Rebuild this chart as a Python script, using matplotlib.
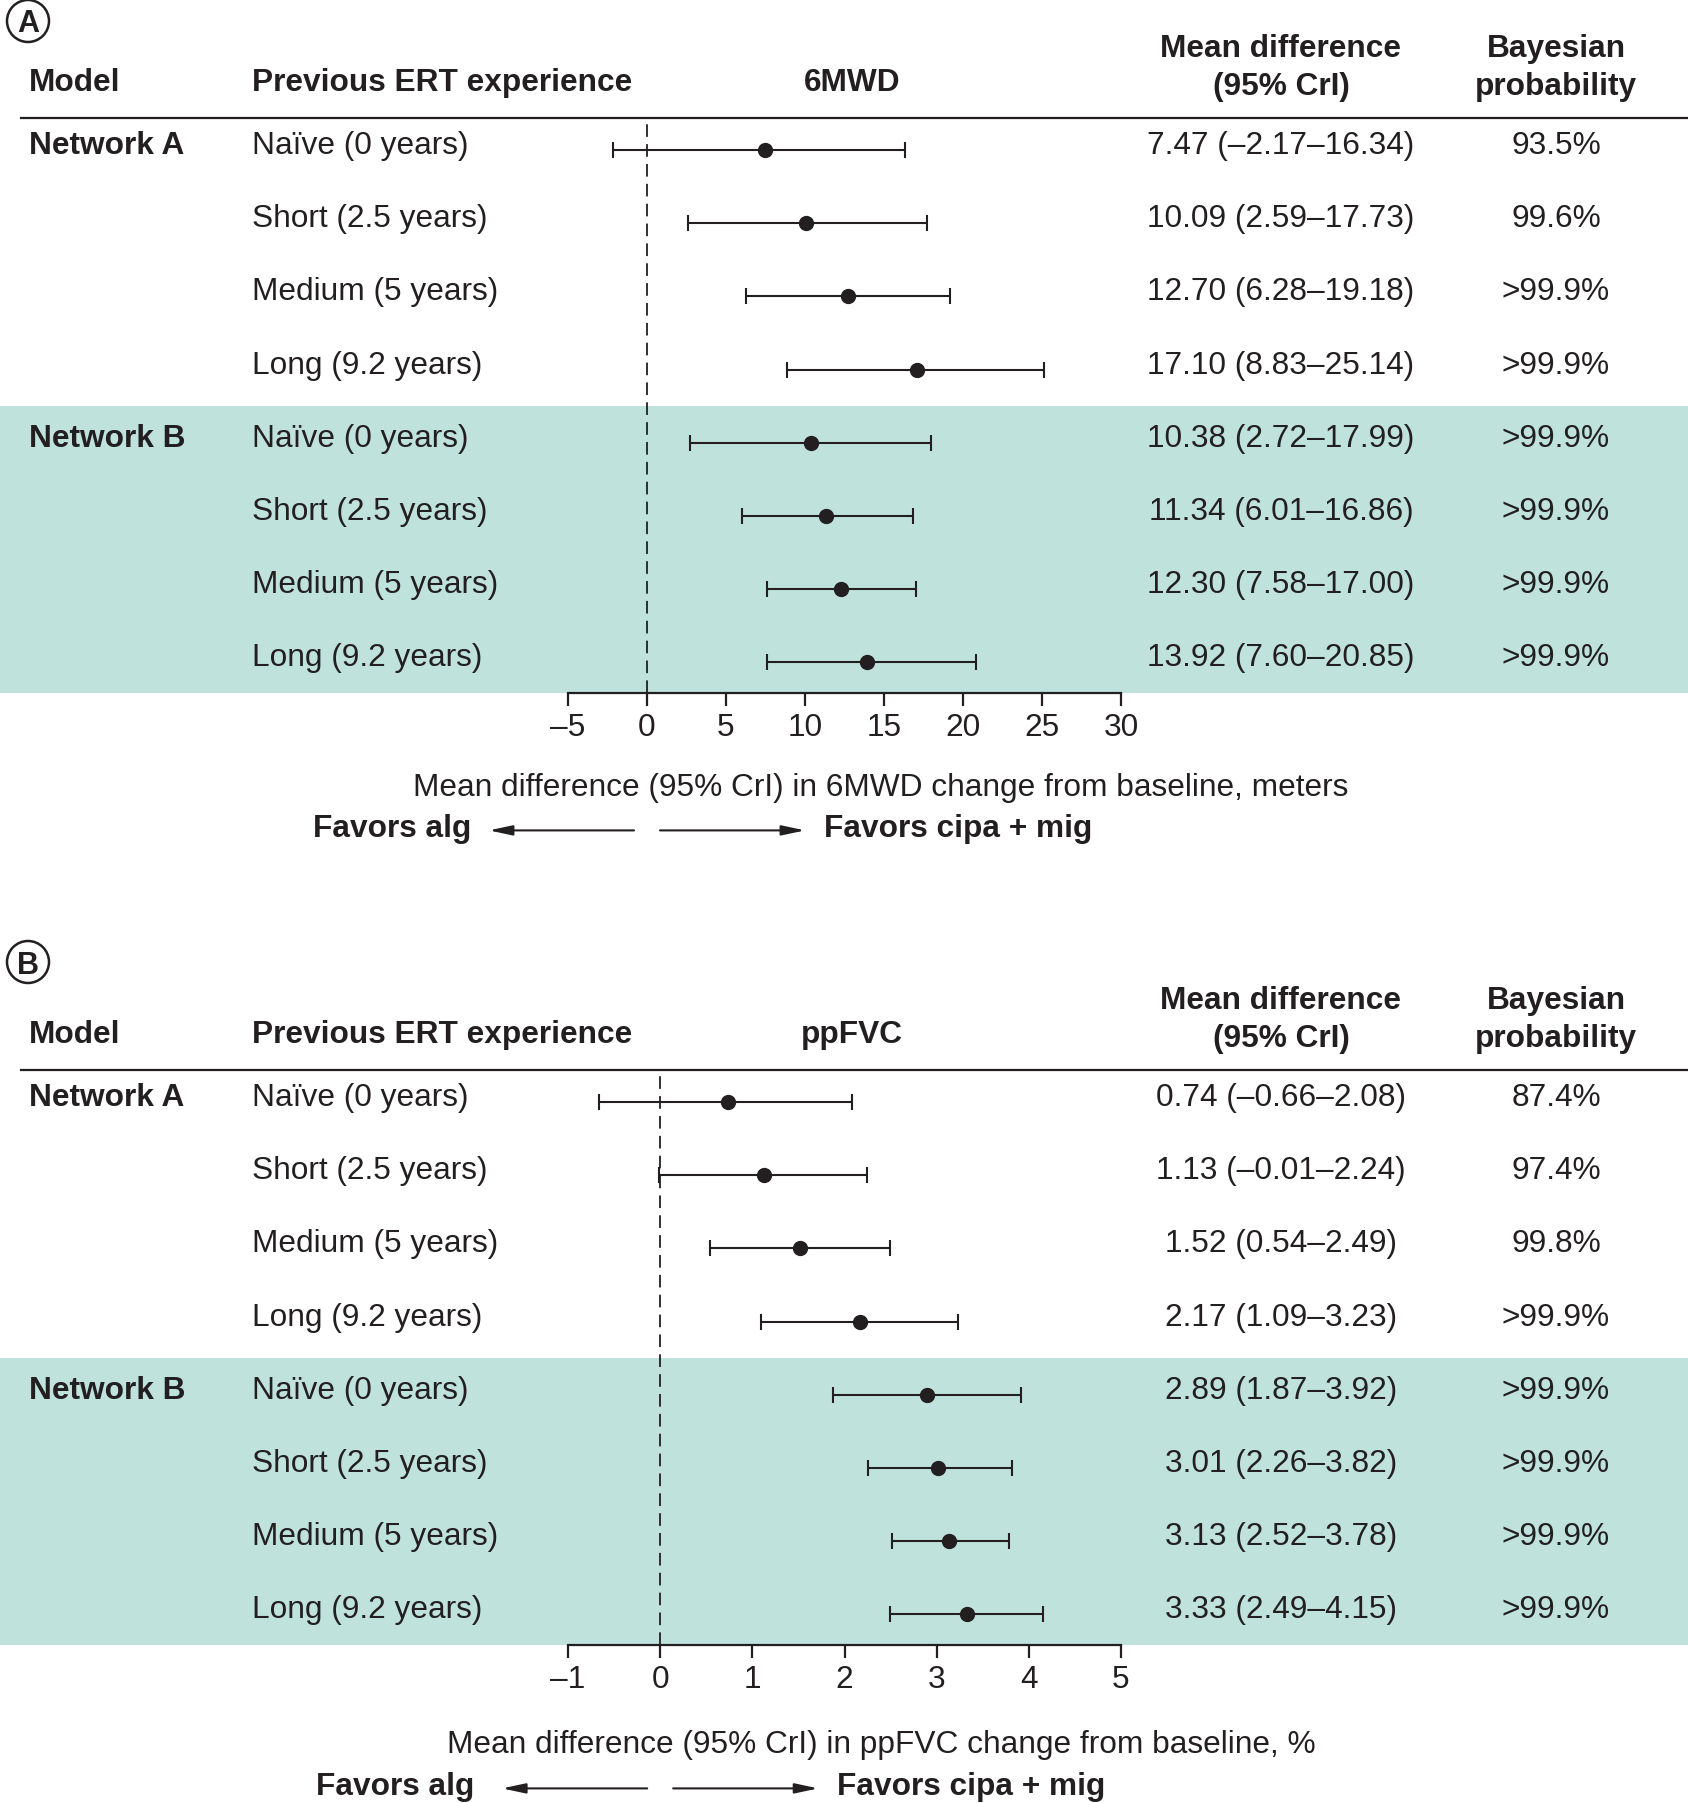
import matplotlib
matplotlib.use('Agg')
import matplotlib.pyplot as plt
import matplotlib.transforms as mtransforms
from matplotlib.patches import Rectangle, Ellipse, FancyArrowPatch
from matplotlib.lines import Line2D

plt.rcParams['font.family'] = ['Liberation Sans', 'DejaVu Sans']

INK = '#231f20'
BAND = '#bfe3dc'

# data
experience = ['Naïve (0 years)', 'Short (2.5 years)', 'Medium (5 years)', 'Long (9.2 years)']
networks = ['Network A', 'Network B']

mwd_mean = [7.47, 10.09, 12.70, 17.10, 10.38, 11.34, 12.30, 13.92]
mwd_low = [-2.17, 2.59, 6.28, 8.83, 2.72, 6.01, 7.58, 7.60]
mwd_high = [16.34, 17.73, 19.18, 25.14, 17.99, 16.86, 17.00, 20.85]
mwd_prob = ['93.5%', '99.6%', '>99.9%', '>99.9%', '>99.9%', '>99.9%', '>99.9%', '>99.9%']
mwd_ticks = [-5, 0, 5, 10, 15, 20, 25, 30]

fvc_mean = [0.74, 1.13, 1.52, 2.17, 2.89, 3.01, 3.13, 3.33]
fvc_low = [-0.66, -0.01, 0.54, 1.09, 1.87, 2.26, 2.52, 2.49]
fvc_high = [2.08, 2.24, 2.49, 3.23, 3.92, 3.82, 3.78, 4.15]
fvc_prob = ['87.4%', '97.4%', '99.8%', '>99.9%', '>99.9%', '>99.9%', '>99.9%', '>99.9%']
fvc_ticks = [-1, 0, 1, 2, 3, 4, 5]

# layout (pixels)
W, H = 1688, 1803
FS = 22.8
ROW = 73.2
X_MODEL, X_EXP, X_OUT, X_MD, X_PROB = 29, 252, 852, 1281, 1556
X_AX0, X_AX1 = 568, 1121

fig = plt.figure(figsize=(W / 100, H / 100), dpi=100)
fig.patch.set_facecolor('white')


def fx(px):
    return px / W


def fy(py):
    return 1 - py / H


def dash(v):
    return f'{v:.2f}'.replace('-', '\u2013')


def draw_panel(tag, row0, circle_dy, outcome, xlabel, mean, low, high, prob, ticks,
               label_dy, favors_dy, alg_gap):
    top, bottom = row0 - 32, row0 + 7 * ROW + 31
    ax = fig.add_axes([fx(X_AX0), fy(bottom), fx(X_AX1) - fx(X_AX0), (bottom - top) / H])
    ax.set_xlim(ticks[0], ticks[-1])
    ax.set_ylim((bottom - row0) / ROW, (top - row0) / ROW)
    ax.patch.set_visible(False)
    tr = mtransforms.blended_transform_factory(fig.transFigure, ax.transData)
    rows = list(range(len(mean)))
    y_top = (top - row0) / ROW
    y_bot = (bottom - row0) / ROW

    # shaded Network B band and header rule
    ax.add_artist(Rectangle((0, 3.5), 1, y_bot - 3.5, transform=tr, facecolor=BAND,
                            edgecolor='none', zorder=0, clip_on=False))
    ax.add_artist(Line2D([fx(21), 1], [y_top, y_top], transform=tr, color=INK,
                         lw=1.6, clip_on=False, zorder=4))

    # forest marks
    ax.axvline(0, color=INK, lw=1.3, dashes=(7, 4), zorder=2)
    xerr = [[m - l for m, l in zip(mean, low)], [h - m for m, h in zip(mean, high)]]
    ax.errorbar(mean, rows, xerr=xerr, fmt='o', color=INK, ms=10, lw=1.5,
                capsize=6, capthick=1.5, zorder=3)

    for s in ['left', 'top', 'right']:
        ax.spines[s].set_visible(False)
    ax.spines['bottom'].set_linewidth(1.6)
    ax.spines['bottom'].set_color(INK)
    ax.set_yticks([])
    ax.set_xticks(ticks)
    ax.set_xticklabels([str(t).replace('-', '\u2013') for t in ticks], fontsize=FS, color=INK)
    ax.tick_params(axis='x', length=9, width=1.6, pad=5, colors=INK)

    # table text
    base = 4 / ROW
    for i in rows:
        y = i + base
        if i % 4 == 0:
            ax.text(fx(X_MODEL), y, networks[i // 4], transform=tr, fontsize=FS,
                    fontweight='bold', color=INK, va='baseline', ha='left')
        ax.text(fx(X_EXP), y, experience[i % 4], transform=tr, fontsize=FS,
                color=INK, va='baseline', ha='left')
        ax.text(fx(X_MD), y, f'{dash(mean[i])} ({dash(low[i])}\u2013{dash(high[i])})',
                transform=tr, fontsize=FS, color=INK, va='baseline', ha='center')
        ax.text(fx(X_PROB), y, prob[i], transform=tr, fontsize=FS, color=INK,
                va='baseline', ha='center')

    # headers
    y1 = -59 / ROW
    l1, l2 = -93 / ROW, -55 / ROW
    hk = dict(transform=tr, fontsize=FS, fontweight='bold', color=INK, va='baseline')
    ax.text(fx(X_MODEL), y1, 'Model', ha='left', **hk)
    ax.text(fx(X_EXP), y1, 'Previous ERT experience', ha='left', **hk)
    ax.text(fx(X_OUT), y1, outcome, ha='center', **hk)
    ax.text(fx(X_MD), l1, 'Mean difference', ha='center', **hk)
    ax.text(fx(X_MD), l2, '(95% CrI)', ha='center', **hk)
    ax.text(fx(X_PROB), l1, 'Bayesian', ha='center', **hk)
    ax.text(fx(X_PROB), l2, 'probability', ha='center', **hk)

    # panel tag
    yc = circle_dy / ROW
    ax.add_artist(Ellipse((fx(28), yc), 42 / W, 42 / ROW, transform=tr, fill=False,
                          edgecolor=INK, lw=1.8, clip_on=False))
    ax.text(fx(28), yc, tag, transform=tr, fontsize=22, fontweight='bold', color=INK,
            ha='center', va='center_baseline')

    # axis title and direction arrows
    fig.text(fx(881), fy(bottom + label_dy), xlabel, fontsize=FS, color=INK,
             ha='center', va='baseline')
    zero = X_AX0 + (0 - ticks[0]) / (ticks[-1] - ticks[0]) * (X_AX1 - X_AX0)
    yb, ya = fy(bottom + favors_dy), fy(bottom + favors_dy - 7)
    fig.text(fx(zero - alg_gap), yb, 'Favors alg', fontsize=FS, fontweight='bold',
             color=INK, ha='right', va='baseline')
    fig.text(fx(zero + 177), yb, 'Favors cipa + mig', fontsize=FS, fontweight='bold',
             color=INK, ha='left', va='baseline')
    ap = dict(arrowstyle='-|>,head_length=1.4,head_width=0.3', mutation_scale=10,
              lw=1.5, color=INK, shrinkA=0, shrinkB=0)
    fig.add_artist(FancyArrowPatch((fx(zero - 13), ya), (fx(zero - 158), ya),
                                   transform=fig.transFigure, **ap))
    fig.add_artist(FancyArrowPatch((fx(zero + 13), ya), (fx(zero + 158), ya),
                                   transform=fig.transFigure, **ap))


draw_panel('A', 150, -129, '6MWD',
           'Mean difference (95% CrI) in 6MWD change from baseline, meters',
           mwd_mean, mwd_low, mwd_high, mwd_prob, mwd_ticks, 103, 144, 176)
draw_panel('B', 1102, -140, 'ppFVC',
           'Mean difference (95% CrI) in ppFVC change from baseline, %',
           fvc_mean, fvc_low, fvc_high, fvc_prob, fvc_ticks, 108, 150, 186)

fig.savefig('out.png', dpi=100, facecolor='white')
